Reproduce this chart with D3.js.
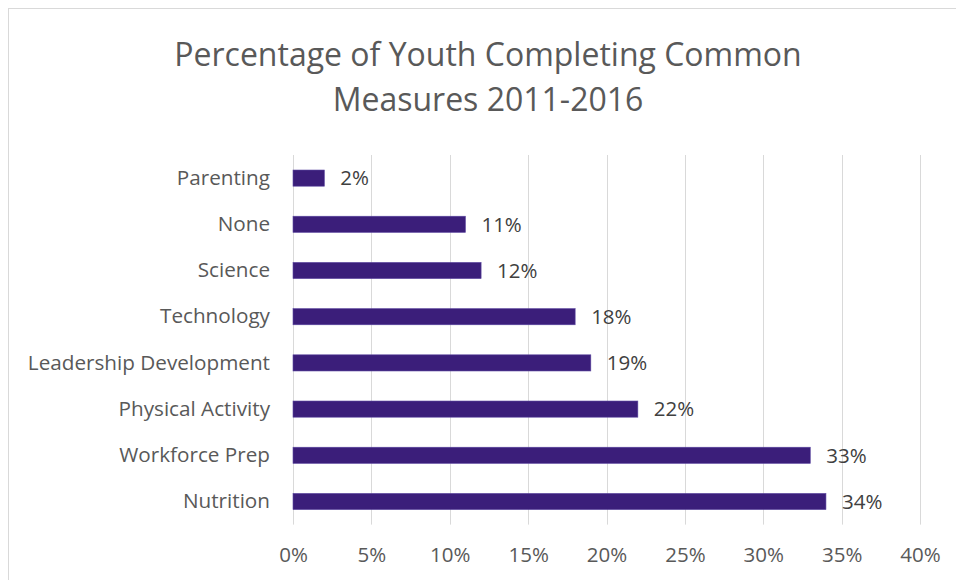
<!DOCTYPE html>
<html>
<head>
<meta charset="utf-8">
<script src="https://cdn.jsdelivr.net/npm/d3@7"></script>
<style>
  html, body { margin: 0; padding: 0; background: #fff; }
  svg { display: block; }
  text { font-family: "Open Sans", sans-serif; }
</style>
</head>
<body>
<svg id="chart" width="956" height="580"></svg>
<script>
// Program areas, listed top to bottom
const categories = ["Parenting", "None", "Science", "Technology", "Leadership Development",
                    "Physical Activity", "Workforce Prep", "Nutrition"];
// Share of youth completing each common measure (percent)
const values = [2, 11, 12, 18, 19, 22, 33, 34];
const tickValues = [0, 5, 10, 15, 20, 25, 30, 35, 40];
const titleLines = ["Percentage of Youth Completing Common", "Measures 2011-2016"];

const FONT = "'Open Sans', sans-serif";
const svg = d3.select("#chart");

// chart frame
svg.append("rect")
  .attr("x", 8.5).attr("y", 8.5)
  .attr("width", 960).attr("height", 600)
  .attr("fill", "#fff")
  .attr("stroke", "#d9d9d9")
  .attr("stroke-width", 1);

// title
svg.append("text")
  .attr("x", 488).attr("y", 66)
  .attr("text-anchor", "middle")
  .attr("fill", "#595959")
  .style("font-size", "32px")
  .selectAll("tspan")
  .data(titleLines)
  .join("tspan")
  .attr("x", 488)
  .attr("dy", (d, i) => i === 0 ? 0 : 45)
  .text(d => d);

const x = d3.scaleLinear().domain([0, 40]).range([293, 920]);
const y = d3.scaleBand().domain(categories).range([155, 524.6])
  .paddingInner(0.65).paddingOuter(0.325);

// vertical gridlines
svg.append("g")
  .selectAll("line")
  .data(tickValues)
  .join("line")
  .attr("x1", d => Math.round(x(d)) + 0.5)
  .attr("x2", d => Math.round(x(d)) + 0.5)
  .attr("y1", 155).attr("y2", 524.6)
  .attr("stroke", "#d9d9d9")
  .attr("stroke-width", 1);

// x axis labels
const xAxis = d3.axisBottom(x)
  .tickValues(tickValues)
  .tickFormat(d => d + "%")
  .tickSize(0)
  .tickPadding(0);
const gx = svg.append("g")
  .attr("transform", "translate(0,547)")
  .call(xAxis);
gx.select(".domain").remove();
gx.selectAll("text")
  .attr("fill", "#595959")
  .attr("dy", "0.71em")
  .style("font-size", "20.5px")
  .style("font-family", FONT);

// y axis labels
const yAxis = d3.axisLeft(y).tickSize(0).tickPadding(23);
const gy = svg.append("g")
  .attr("transform", `translate(${x(0)},0)`)
  .call(yAxis);
gy.select(".domain").remove();
gy.selectAll("text")
  .attr("fill", "#595959")
  .style("font-size", "20.7px")
  .style("font-family", FONT);

// bars
const data = categories.map((c, i) => ({ cat: c, v: values[i] }));
svg.append("g")
  .selectAll("rect")
  .data(data)
  .join("rect")
  .attr("x", x(0))
  .attr("y", d => y(d.cat))
  .attr("width", d => x(d.v) - x(0))
  .attr("height", y.bandwidth())
  .attr("fill", "#3b1e7a")
  .attr("stroke", "#5b46a0")
  .attr("stroke-width", 0.6);

// value labels
svg.append("g")
  .selectAll("text")
  .data(data)
  .join("text")
  .attr("x", d => x(d.v) + 16)
  .attr("y", d => y(d.cat) + y.bandwidth() / 2)
  .attr("dy", "0.36em")
  .attr("fill", "#404040")
  .style("font-size", "20.5px")
  .text(d => d.v + "%");
</script>
</body>
</html>
